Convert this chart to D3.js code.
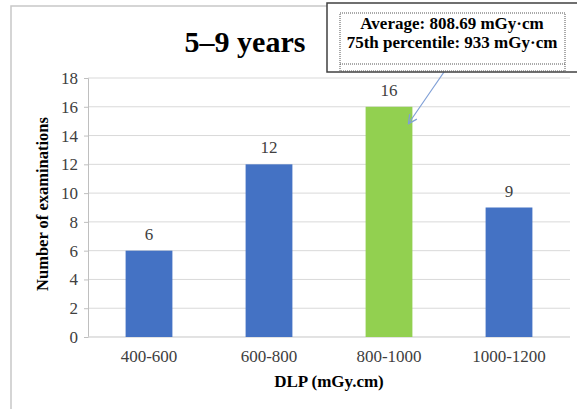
<!DOCTYPE html>
<html lang="en">
<head>
    <meta charset="UTF-8">
    <title>5-9 years DLP</title>
    <script src="https://d3js.org/d3.v7.min.js"></script>
    <style>
        body { margin: 0; background: #fff; }
        svg { display: block; font-family: "Liberation Serif", "Times New Roman", serif; }
    </style>
</head>
<body>
    <svg width="577" height="409"></svg>

    <script>
        const categories = ["400-600", "600-800", "800-1000", "1000-1200"];
        const counts = [6, 12, 16, 9];
        const yTicks = [0, 2, 4, 6, 8, 10, 12, 14, 16, 18];
        const highlighted = "800-1000";
        const noteLines = ["Average: 808.69 mGy\u00b7cm", "75th percentile: 933 mGy\u00b7cm"];

        const svg = d3.select("svg");

        // outer chart frame
        svg.append("rect")
            .attr("x", 11).attr("y", 6)
            .attr("width", 600).attr("height", 420)
            .attr("fill", "none")
            .attr("stroke", "#c8c8c8")
            .attr("stroke-width", 1.5);

        const x = d3.scaleBand()
            .domain(categories)
            .range([89, 569])
            .paddingInner(0.61)
            .paddingOuter(0.305);

        const y = d3.scaleLinear()
            .domain([0, 18])
            .range([337, 78]);

        // gridlines
        svg.append("g")
            .selectAll("line")
            .data(yTicks)
            .enter().append("line")
            .attr("x1", 88).attr("x2", 570)
            .attr("y1", d => y(d)).attr("y2", d => y(d))
            .attr("stroke", "#d9d9d9")
            .attr("stroke-width", 1);

        // y axis
        const yAxis = svg.append("g")
            .attr("transform", "translate(88,0)")
            .call(d3.axisLeft(y).tickValues(yTicks).tickSize(4).tickPadding(6));
        yAxis.select(".domain").attr("stroke", "#bfbfbf");
        yAxis.selectAll(".tick line").attr("stroke", "#bfbfbf");
        yAxis.selectAll("text")
            .attr("font-family", "Liberation Serif")
            .attr("font-size", 17)
            .attr("fill", "#404040");

        // x axis
        const xAxis = svg.append("g")
            .attr("transform", "translate(0,337)")
            .call(d3.axisBottom(x).tickSize(0).tickPadding(13));
        xAxis.select(".domain").attr("d", "M88,0H570").attr("stroke", "#d9d9d9");
        xAxis.selectAll("text")
            .attr("font-family", "Liberation Serif")
            .attr("font-size", 17)
            .attr("fill", "#404040");

        // bars
        svg.append("g")
            .selectAll("rect")
            .data(categories)
            .enter().append("rect")
            .attr("x", d => x(d))
            .attr("width", x.bandwidth())
            .attr("y", (d, i) => y(counts[i]))
            .attr("height", (d, i) => y(0) - y(counts[i]))
            .attr("fill", d => d === highlighted ? "#92d050" : "#4472c4");

        // value labels
        svg.append("g")
            .selectAll("text")
            .data(categories)
            .enter().append("text")
            .attr("x", d => x(d) + x.bandwidth() / 2)
            .attr("y", (d, i) => y(counts[i]) - 11)
            .attr("text-anchor", "middle")
            .attr("font-size", 17)
            .attr("fill", "#404040")
            .text((d, i) => counts[i]);

        // title
        svg.append("text")
            .attr("x", 245).attr("y", 52)
            .attr("text-anchor", "middle")
            .attr("font-size", 30)
            .attr("font-weight", "bold")
            .attr("fill", "#000")
            .text("5\u20139 years");

        // axis titles
        svg.append("text")
            .attr("x", 329).attr("y", 387)
            .attr("text-anchor", "middle")
            .attr("font-size", 17)
            .attr("font-weight", "bold")
            .text("DLP (mGy.cm)");

        svg.append("text")
            .attr("transform", "translate(48,204) rotate(-90)")
            .attr("text-anchor", "middle")
            .attr("font-size", 16.5)
            .attr("font-weight", "bold")
            .text("Number of examinations");

        // annotation arrow
        svg.append("defs").append("marker")
            .attr("id", "head")
            .attr("viewBox", "0 0 10 10")
            .attr("refX", 9).attr("refY", 5)
            .attr("markerWidth", 9).attr("markerHeight", 9)
            .attr("orient", "auto")
            .append("path")
            .attr("d", "M1,1L9,5L1,9")
            .attr("fill", "none")
            .attr("stroke", "#7f9fd6")
            .attr("stroke-width", 1.2);

        const tipX = x(highlighted) + x.bandwidth() - 4;
        svg.append("line")
            .attr("x1", 444).attr("y1", 72)
            .attr("x2", tipX).attr("y2", y(counts[categories.indexOf(highlighted)]) + 17)
            .attr("stroke", "#7f9fd6")
            .attr("stroke-width", 1.2)
            .attr("marker-end", "url(#head)");

        // annotation box
        svg.append("rect")
            .attr("x", 327).attr("y", 3)
            .attr("width", 270).attr("height", 69)
            .attr("fill", "#fff")
            .attr("stroke", "#404040")
            .attr("stroke-width", 1.5);

        svg.append("rect")
            .attr("x", 340).attr("y", 13)
            .attr("width", 225).attr("height", 58)
            .attr("fill", "none")
            .attr("stroke", "#555")
            .attr("stroke-width", 1)
            .attr("stroke-dasharray", "1,1");
        svg.append("line")
            .attr("x1", 340).attr("x2", 565)
            .attr("y1", 64).attr("y2", 64)
            .attr("stroke", "#555")
            .attr("stroke-dasharray", "1,1");

        svg.append("g")
            .selectAll("text")
            .data(noteLines)
            .enter().append("text")
            .attr("x", 452)
            .attr("y", (d, i) => 29 + i * 19)
            .attr("text-anchor", "middle")
            .attr("font-size", 17)
            .attr("font-weight", "bold")
            .attr("fill", "#000")
            .text(d => d);
    </script>
</body>
</html>
